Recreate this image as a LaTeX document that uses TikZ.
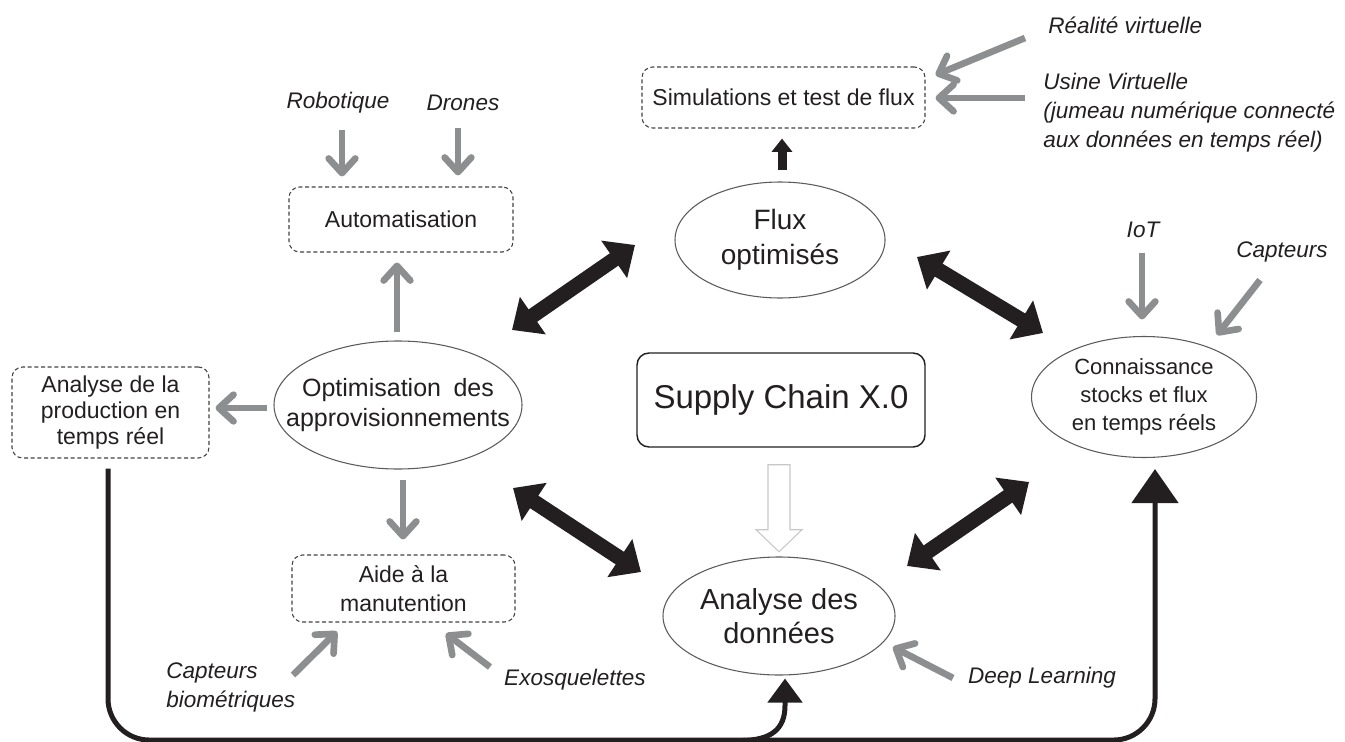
\documentclass[tikz,border=0pt]{standalone}
\usepackage{fontspec}
\setmainfont{Liberation Sans}
\usetikzlibrary{arrows.meta,shapes.geometric,calc}
\definecolor{ink}{HTML}{231F20}
\definecolor{arrowgray}{HTML}{8C8E90}
\definecolor{rimgray}{HTML}{5A5B5D}
\definecolor{palegray}{HTML}{C8C8C8}

\begin{document}
\begin{tikzpicture}[x=0.75pt,y=-0.75pt,
  every node/.style={text=ink, inner sep=0pt},
  dashbox/.style={draw=ink!85, line width=0.8pt, dash pattern=on 3pt off 2pt,
    rounded corners=8pt, align=center},
  ovalnode/.style={ellipse, draw=rimgray, line width=0.8pt},
  labeltext/.style={font=\fontsize{16.9pt}{21.75pt}\selectfont\itshape},
  grayfeed/.style={draw=arrowgray, line width=5pt,
    -{Straight Barb[length=11pt,width=20pt,round]}},
  biglink/.style={draw=ink, line width=11.25pt,
    {Triangle[length=19pt,width=33pt]}-{Triangle[length=19pt,width=33pt]}},
  backline/.style={draw=ink, line width=3.75pt},
  hollow/.style={draw=palegray, fill=white, line width=0.8pt, line join=miter},
]
\path[use as bounding box] (0,0) rectangle (1345,742);

% ---- boxes ----
\node[dashbox, minimum width=212.25pt, minimum height=45.75pt,
  font=\fontsize{17.25pt}{20pt}\selectfont] (sim) at (783.5,97.5) {Simulations et test de flux};
\node[dashbox, minimum width=168pt, minimum height=48.75pt,
  font=\fontsize{17.25pt}{20pt}\selectfont] (aut) at (401,219.5) {Automatisation};
\node[dashbox, minimum width=147.75pt, minimum height=68.25pt,
  font=\fontsize{17.25pt}{19.5pt}\selectfont] (ap) at (110.5,412.5) {Analyse de la\\production en\\temps réel};
\node[dashbox, minimum width=167.25pt, minimum height=50.25pt,
  font=\fontsize{17.25pt}{21.75pt}\selectfont] (aide) at (403.5,588.5) {Aide à la\\manutention};
\node[draw=ink, line width=1.1pt, rounded corners=9pt, minimum width=216pt, minimum height=70.5pt,
  font=\fontsize{24.75pt}{28pt}\selectfont] (sc) at (781,400) {Supply Chain X.0};

% ---- ovals ----
\node[ovalnode, minimum width=157.5pt, minimum height=87pt] (flux) at (780,240) {};
\node[align=center, font=\fontsize{21pt}{26.25pt}\selectfont] (fluxt) at (flux) {Flux\\optimisés};
\node[ovalnode, minimum width=186pt, minimum height=96pt] (opt) at (398,405) {};
\node[align=center, font=\fontsize{18.75pt}{22.5pt}\selectfont] (optt) at (opt) {Optimisation\hspace{0.5em}des\\approvisionnements};
\node[ovalnode, minimum width=168.75pt, minimum height=90.75pt] (ck) at (1144,397) {};
\node[align=center, font=\fontsize{16.5pt}{21pt}\selectfont] (ckt) at (ck) {Connaissance\\stocks et flux\\en temps réels};
\node[ovalnode, minimum width=174pt, minimum height=88.5pt] (ad) at (779,616) {};
\node[align=center, font=\fontsize{21.75pt}{25.5pt}\selectfont] (adt) at (ad) {Analyse des\\données};

% ---- italic labels ----
\node[labeltext, anchor=west] (real) at (1048,25) {Réalité virtuelle};
\node[labeltext, anchor=west, align=left] (usine) at (1043,112.5) {Usine Virtuelle\\(jumeau numérique connecté\\aux données en temps réel)};
\node[labeltext] (rob) at (338,103) {Robotique};
\node[labeltext] (dro) at (463,103) {Drones};
\node[labeltext] (iot) at (1143,230) {IoT};
\node[labeltext] (capt) at (1282,252) {Capteurs};
\node[labeltext, anchor=west, align=left] (bio) at (166,687) {Capteurs\\biométriques};
\node[labeltext] (exo) at (575,680) {Exosquelettes};
\node[labeltext] (deep) at (1042,678) {Deep Learning};

% ---- grey input arrows ----
\draw[grayfeed] ($(rob)+(4,27)$) -- ($(aut.north)+(-59,-10)$);
\draw[grayfeed] ($(dro)+(-5,25)$) -- ($(aut.north)+(57,-11)$);
\draw[grayfeed] ($(opt.north)+(-1,-8)$) -- ($(aut.south)+(-4,10)$);
\draw[grayfeed] ($(opt.west)+(-6,3)$) -- ($(ap.east)+(6,-4.5)$);
\draw[grayfeed] ($(opt.south)+(5,10)$) -- ($(aide.north)+(-0.5,-15)$);
\draw[grayfeed] ($(real.west)+(-23,13)$) -- ($(sim.east)+(10,-22.5)$);
\draw[grayfeed] ($(usine.west)+(-18,-14.5)$) -- ($(sim.east)+(10,0.5)$);
\draw[grayfeed] ($(iot)+(-1,23)$) -- ($(ck.north)+(-2,-16.5)$);
\draw[grayfeed] ($(capt)+(-22,28)$) -- ($(ck)+(73,-62)$);
\draw[grayfeed] ($(bio.west)+(127,-12)$) -- ($(aide.south)+(-66.5,9)$);
\draw[grayfeed] ($(exo)+(-85,-13)$) -- ($(aide.south)+(42.5,11)$);
\draw[grayfeed] ($(deep)+(-89,0)$) -- ($(ad)+(114,31)$);

% ---- black two-way links ----
\draw[biglink] ($(opt)+(114,-75)$) -- ($(flux)+(-145,5)$);
\draw[biglink] ($(flux)+(137,17)$) -- ($(ck)+(-101,-64)$);
\draw[biglink] ($(opt)+(115,83)$) -- ($(ad)+(-138,-44)$);
\draw[biglink] ($(ad)+(128,-50)$) -- ($(ck)+(-115,85)$);

% ---- flux to simulations ----
\draw[draw=ink, line width=6.75pt, -{Triangle[length=10pt,width=15pt]}]
  ($(flux.north)+(2,-11)$) -- ($(sim.south)+(-1.5,10)$);

% ---- hollow arrow below the central box ----
\draw[hollow, shift={(sc.south)}]
  (-13,17) -- (9,17) -- (9,82) -- (21,82) -- (-2,104) -- (-25,82) -- (-13,82) -- cycle;

% ---- feedback line along the bottom ----
\draw[backline, rounded corners=31pt, -{Triangle[length=25.5pt,width=34.5pt]}]
  ($(ap.south)+(-2.5,10)$) |- ($(ck.south)+(11,282)$) -- ($(ck.south)+(11,11)$);
\draw[backline, -{Triangle[length=18pt,width=25.5pt]}]
  ($(ad.south)+(-39,65)$) .. controls ($(ad.south)+(-7,65)$) and ($(ad.south)+(6,53)$) ..
  ($(ad.south)+(6,30)$) -- ($(ad.south)+(6,3)$);
\end{tikzpicture}
\end{document}
